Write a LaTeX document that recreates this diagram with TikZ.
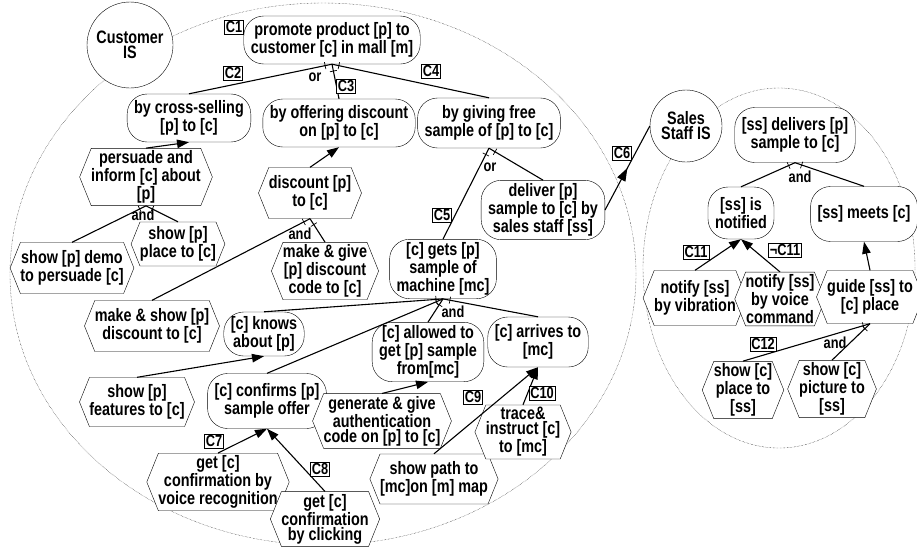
\documentclass[tikz,border=0pt]{standalone}
\usepackage{fontspec}
\setmainfont{Liberation Sans}[FakeStretch=0.8]
\usetikzlibrary{shapes.symbols,shapes.misc,arrows.meta,decorations.markings}
\newcommand\elemfont{\fontsize{18}{15}\selectfont\bfseries}
\newcommand\tagfont{\fontsize{16}{15}\selectfont\bfseries}
\tikzset{
  goal/.style={draw, fill=white, rectangle, rounded corners=20pt, align=center, font=\elemfont, inner xsep=7pt, inner ysep=3.5pt, minimum height=48pt},
  task/.style={draw, fill=white, signal, signal to=west and east, signal pointer angle=136, align=center, font=\elemfont, inner xsep=0pt, inner ysep=2.5pt, minimum height=51pt},
  actor/.style={draw, fill=white, circle, align=center, font=\elemfont, inner sep=0pt},
  cbox/.style={draw, fill=white, inner sep=1.5pt, font=\tagfont},
  lbl/.style={inner sep=1pt, font=\tagfont},
  boundary/.style={densely dotted, thin},
  meansend/.style={line width=1.1pt, -{Triangle[length=12pt,width=8.5pt]}},
  declink/.style={line width=1.1pt, postaction={decorate}, decoration={markings, mark=at position -7pt with {\draw[line width=0.7pt] (0,-3.5pt) -- (0,3.5pt);}}},
  depend/.style={line width=1.1pt, postaction={decorate}, decoration={markings, mark=at position 0.5 with {\arrow{Triangle[length=13pt,width=9pt]}}}}
}
\begin{document}
\begin{tikzpicture}[x=1pt,y=-1pt]
\useasboundingbox (0,0) rectangle (917,547);
\draw [boundary] (323,274) ellipse [x radius=313, y radius=271];
\draw [boundary] (779,268) ellipse [x radius=136, y radius=180];

\node[actor, minimum size=86pt] (cust) at (130,45) {Customer\\IS};
\node[actor, minimum size=72pt] (sales) at (686,126) {Sales\\Staff IS};

\node[goal] (promote) at (332,40) {promote product [p] to\\customer [c] in mall [m]};
\node[goal] (cross) at (189,118) {by cross-selling\\{}[p] to [c]};
\node[goal] (offer) at (339,123) {by offering discount\\on [p] to [c]};
\node[goal, minimum height=50pt] (free) at (489,123) {by giving free\\sample of [p] to [c]};
\node[task] (persuade) at (146,177) {persuade and\\inform [c] about\\{}[p]};
\node[task] (demo) at (72,268) {show [p] demo\\to persuade [c]};
\node[task, minimum height=44pt] (place) at (178,244) {show [p]\\place to [c]};
\node[task] (discount) at (310,193) {discount [p]\\to [c]};
\node[task] (mkgive) at (325,271) {make \& give\\{}[p] discount\\code to [c]};
\node[task] (mkshow) at (152,326) {make \& show [p]\\discount to [c]};
\node[goal] (deliver) at (543,210) {deliver [p]\\sample to [c] by\\sales staff [ss]};
\node[goal] (gets) at (443,269) {[c] gets [p]\\sample of\\machine [mc]};
\node[goal, minimum height=44pt] (knows) at (264,334) {[c] knows\\about [p]};
\node[goal, minimum height=55pt] (confirms) at (267,401) {[c] confirms [p]\\sample offer};
\node[goal] (allowed) at (428,352) {[c] allowed to\\get [p] sample\\from[mc]};
\node[goal, minimum height=50pt] (arrives) at (538,342) {[c] arrives to\\{}[mc]};
\node[task, minimum height=49pt] (features) at (137,402) {show [p]\\features to [c]};
\node[task] (voice) at (218,482) {get [c]\\confirmation by\\voice recognition};
\node[task] (clicking) at (325,519) {get [c]\\confirmation\\by clicking};
\node[task] (generate) at (382,421) {generate \& give\\authentication\\code on [p] to [c]};
\node[task, minimum height=50pt] (path) at (434,479) {show path to\\{}[mc]on [m] map};
\node[task] (trace) at (523,432) {trace\&\\instruct [c]\\to [mc]};

\node[goal, minimum height=55pt] (delivers) at (795,135) {[ss] delivers [p]\\sample to [c]};
\node[goal, minimum height=52pt] (notified) at (741,213) {[ss] is\\notified};
\node[goal, minimum height=55pt] (meets) at (864,214) {[ss] meets [c]};
\node[task, minimum height=55pt] (vibr) at (695,298) {notify [ss]\\by vibration};
\node[task] (vcmd) at (780,299) {notify [ss]\\by voice\\command};
\node[task, minimum height=53pt] (guide) at (870,297) {guide [ss] to\\{}[c] place};
\node[task] (showplace) at (743,390) {show [c]\\place to\\{}[ss]};
\node[task] (showpic) at (832,389) {show [c]\\picture to\\{}[ss]};

\foreach \a/\b in {cross/promote, offer/promote, free/promote, demo/persuade, place/persuade, mkshow/discount, mkgive/discount, gets/free, deliver/free, knows/gets, confirms/gets, allowed/gets, arrives/gets, notified/delivers, meets/delivers, showplace/guide, showpic/guide}
  \draw [declink] (\a.north) -- (\b.south);
\foreach \a/\b in {persuade/cross, discount/offer, features/knows, voice/confirms, clicking/confirms, generate/allowed, path/arrives, trace/arrives, vibr/notified, vcmd/notified, guide/meets}
  \draw [meansend] (\a.north) -- (\b.south);
\draw [depend] (deliver.east) -- (sales.west);

\foreach \t/\x/\y in {C1/234/27, C2/233/73, C3/346/86, C4/431/71, C5/442/215, C6/622/153, C7/214/441, C8/320/469, C9/473/397, C10/542/393, C11/696/252, C12/763/344}
  \node[cbox] (\t) at (\x,\y) {\t};
\node[cbox] (notC11) at (785,250) {¬C11};
\node[lbl] (or1) at (315,77) {or};
\node[lbl] (or2) at (490,167) {or};
\node[lbl] (and1) at (143,215) {and};
\node[lbl] (and2) at (300,234) {and};
\node[lbl] (and3) at (453,312) {and};
\node[lbl] (and4) at (800,177) {and};
\node[lbl] (and5) at (835,343) {and};
\end{tikzpicture}
\end{document}
